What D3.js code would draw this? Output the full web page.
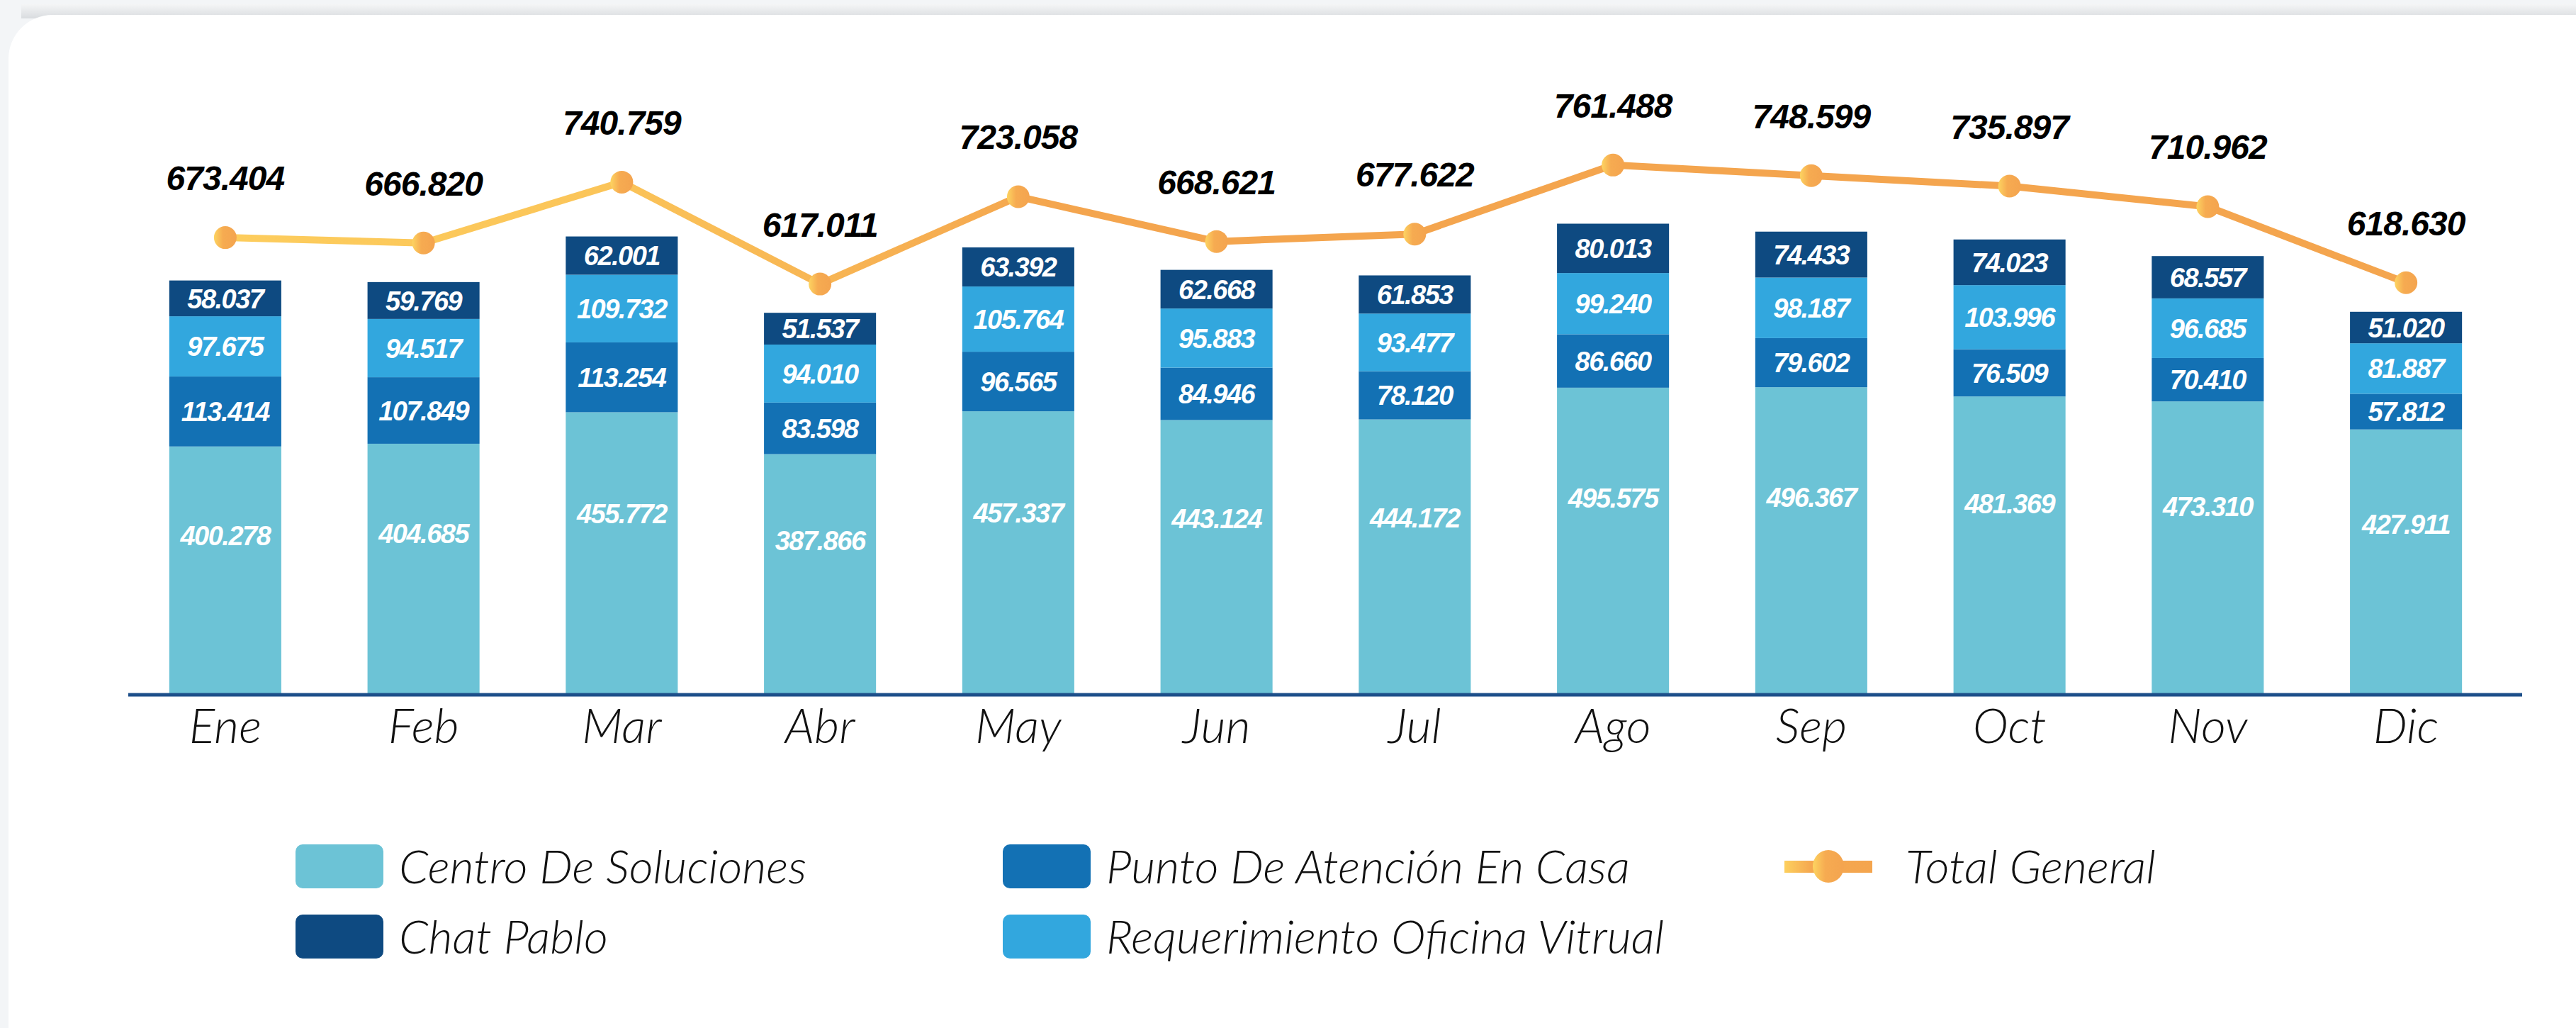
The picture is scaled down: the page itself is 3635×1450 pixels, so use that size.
<!DOCTYPE html>
<html>
<head>
<meta charset="utf-8">
<script src="https://cdn.jsdelivr.net/npm/d3@7"></script>
<style>
  html, body { margin: 0; padding: 0; background: #f3f5f7; }
  svg { display: block; }
</style>
</head>
<body>
<svg id="chart" width="3635" height="1450"></svg>
<script>
const months = ['Ene', 'Feb', 'Mar', 'Abr', 'May', 'Jun', 'Jul', 'Ago', 'Sep', 'Oct', 'Nov', 'Dic'];
const centroSoluciones = [400278, 404685, 455772, 387866, 457337, 443124, 444172, 495575, 496367, 481369, 473310, 427911];
const puntoAtencion = [113414, 107849, 113254, 83598, 96565, 84946, 78120, 86660, 79602, 76509, 70410, 57812];
const requerimientoOV = [97675, 94517, 109732, 94010, 105764, 95883, 93477, 99240, 98187, 103996, 96685, 81887];
const chatPablo = [58037, 59769, 62001, 51537, 63392, 62668, 61853, 80013, 74433, 74023, 68557, 51020];
const totalGeneral = [673404, 666820, 740759, 617011, 723058, 668621, 677622, 761488, 748599, 735897, 710962, 618630];

const seriesNames = ['Centro De Soluciones', 'Punto De Atención En Casa', 'Requerimiento Oficina Vitrual', 'Chat Pablo'];
const seriesColors = ['#6cc3d6', '#1371b4', '#32a7de', '#0e4a81'];
const totalName = 'Total General';

const es = d3.formatLocale({ decimal: ',', thousands: '.', grouping: [3], currency: ['$', ''] });
const fmt = es.format(',');

const svg = d3.select('#chart');
const defs = svg.append('defs');

// background + card
const topGrad = defs.append('linearGradient').attr('id', 'topGrad').attr('x1', 0).attr('y1', 0).attr('x2', 0).attr('y2', 1);
topGrad.append('stop').attr('offset', '0%').attr('stop-color', '#f4f5f6');
topGrad.append('stop').attr('offset', '100%').attr('stop-color', '#d9dcdf');
svg.append('rect').attr('width', 3635).attr('height', 1450).attr('fill', '#f3f5f7');
svg.append('rect').attr('x', 30).attr('y', 6).attr('width', 3635).attr('height', 20).attr('fill', 'url(#topGrad)');
svg.append('rect').attr('x', 12).attr('y', 21).attr('width', 3700).attr('height', 1500).attr('rx', 62).attr('fill', '#ffffff');

// scales
const x = d3.scaleBand()
  .domain(months)
  .range([178, 3535])
  .paddingInner(0.435)
  .paddingOuter(0.2175);

const y = d3.scaleLinear()
  .domain([0, 800000])
  .range([978, 282]);

const yTotal = d3.scaleLinear()
  .domain([0, 900000])
  .range([1117, 72]);

const rows = months.map((m, i) => ({
  month: m,
  c0: centroSoluciones[i],
  c1: puntoAtencion[i],
  c2: requerimientoOV[i],
  c3: chatPablo[i]
}));
const stack = d3.stack().keys(['c0', 'c1', 'c2', 'c3']);
const stacked = stack(rows);

const layer = svg.selectAll('.layer')
  .data(stacked)
  .enter().append('g')
  .attr('class', 'layer')
  .attr('fill', (d, i) => seriesColors[i]);

layer.selectAll('rect')
  .data(d => d)
  .enter().append('rect')
  .attr('x', d => x(d.data.month))
  .attr('y', d => y(d[1]))
  .attr('width', x.bandwidth())
  .attr('height', d => y(d[0]) - y(d[1]));

// segment labels
stacked.forEach((s, si) => {
  svg.append('g').selectAll('text')
    .data(s)
    .enter().append('text')
    .attr('x', d => x(d.data.month) + x.bandwidth() / 2)
    .attr('y', d => si === 0
      ? y(d[1]) + (y(d[0]) - y(d[1])) * 0.36
      : (y(d[0]) + y(d[1])) / 2)
    .attr('dy', '0.36em')
    .attr('text-anchor', 'middle')
    .attr('fill', '#ffffff')
    .style('font-family', '"Liberation Sans", Arial, sans-serif')
    .style('font-weight', 'bold')
    .style('font-style', 'italic')
    .style('font-size', '38px')
    .style('letter-spacing', '-1.5px')
    .text(d => fmt(d[1] - d[0]));
});

// axis
const axis = svg.append('g')
  .attr('transform', 'translate(0,980)')
  .call(d3.axisBottom(x).tickSize(0).tickSizeOuter(0));
axis.select('.domain')
  .attr('stroke', '#1d4f8a')
  .attr('stroke-width', 5)
  .attr('d', 'M181,0H3559');
axis.selectAll('text')
  .attr('y', 68)
  .attr('dy', 0)
  .attr('fill', '#111')
  .style('font-family', 'Lato, "Open Sans", sans-serif')
  .style('font-weight', 300)
  .style('font-style', 'italic')
  .style('font-size', '68px');

// total line
const lineGrad = defs.append('linearGradient').attr('id', 'lineGrad')
  .attr('gradientUnits', 'userSpaceOnUse')
  .attr('x1', 300).attr('y1', 0).attr('x2', 1500).attr('y2', 0);
lineGrad.append('stop').attr('offset', '0%').attr('stop-color', '#fdcd5d');
lineGrad.append('stop').attr('offset', '45%').attr('stop-color', '#fbc559');
lineGrad.append('stop').attr('offset', '100%').attr('stop-color', '#f4a54e');

const dotGrad = defs.append('linearGradient').attr('id', 'dotGrad')
  .attr('x1', 0).attr('y1', 0).attr('x2', 1).attr('y2', 0);
dotGrad.append('stop').attr('offset', '0%').attr('stop-color', '#fdd461');
dotGrad.append('stop').attr('offset', '40%').attr('stop-color', '#f6ab51');
dotGrad.append('stop').attr('offset', '100%').attr('stop-color', '#f4a44f');

const cx = d => x(d) + x.bandwidth() / 2;
const line = d3.line()
  .x((d, i) => cx(months[i]))
  .y(d => yTotal(d));

svg.append('path')
  .datum(totalGeneral)
  .attr('d', line)
  .attr('fill', 'none')
  .attr('stroke', 'url(#lineGrad)')
  .attr('stroke-width', 10)
  .attr('stroke-linejoin', 'round');

svg.append('g').selectAll('circle')
  .data(totalGeneral)
  .enter().append('circle')
  .attr('cx', (d, i) => cx(months[i]))
  .attr('cy', d => yTotal(d))
  .attr('r', 16)
  .attr('fill', 'url(#dotGrad)');

svg.append('g').selectAll('text')
  .data(totalGeneral)
  .enter().append('text')
  .attr('x', (d, i) => cx(months[i]))
  .attr('y', d => yTotal(d) - 67)
  .attr('text-anchor', 'middle')
  .attr('fill', '#000')
  .style('font-family', '"Liberation Sans", Arial, sans-serif')
  .style('font-weight', 'bold')
  .style('font-style', 'italic')
  .style('font-size', '48px')
  .style('letter-spacing', '-1px')
  .text(d => fmt(d));

// legend
const legendItems = [
  { name: seriesNames[0], color: seriesColors[0], col: 0, row: 0 },
  { name: seriesNames[1], color: seriesColors[1], col: 1, row: 0 },
  { name: seriesNames[3], color: seriesColors[3], col: 0, row: 1 },
  { name: seriesNames[2], color: seriesColors[2], col: 1, row: 1 }
];
const legendX = [417, 1415, 2518];
const legendY = [1222, 1321];

const legend = svg.append('g');
legend.selectAll('rect')
  .data(legendItems)
  .enter().append('rect')
  .attr('x', d => legendX[d.col])
  .attr('y', d => legendY[d.row] - 31)
  .attr('width', 124)
  .attr('height', 62)
  .attr('rx', 10)
  .attr('fill', d => d.color);

const legendText = legendItems.concat([{ name: totalName, col: 2, row: 0 }]);
legend.selectAll('text')
  .data(legendText)
  .enter().append('text')
  .attr('x', d => legendX[d.col] + (d.col === 2 ? 171 : 146))
  .attr('y', d => legendY[d.row])
  .attr('dy', '0.36em')
  .attr('fill', '#111')
  .style('font-family', 'Lato, "Open Sans", sans-serif')
  .style('font-weight', 300)
  .style('font-style', 'italic')
  .style('font-size', '66px')
  .text(d => d.name);

const legendLineGrad = defs.append('linearGradient').attr('id', 'legendLineGrad')
  .attr('x1', 0).attr('y1', 0).attr('x2', 1).attr('y2', 0);
legendLineGrad.append('stop').attr('offset', '0%').attr('stop-color', '#fdd05e');
legendLineGrad.append('stop').attr('offset', '30%').attr('stop-color', '#f5a850');
legendLineGrad.append('stop').attr('offset', '100%').attr('stop-color', '#f4a54e');

legend.append('rect')
  .attr('x', legendX[2])
  .attr('y', legendY[0] - 8)
  .attr('width', 124)
  .attr('height', 17)
  .attr('fill', 'url(#legendLineGrad)');
legend.append('ellipse')
  .attr('cx', legendX[2] + 62)
  .attr('cy', legendY[0])
  .attr('rx', 22)
  .attr('ry', 23)
  .attr('fill', 'url(#dotGrad)');
</script>
</body>
</html>
